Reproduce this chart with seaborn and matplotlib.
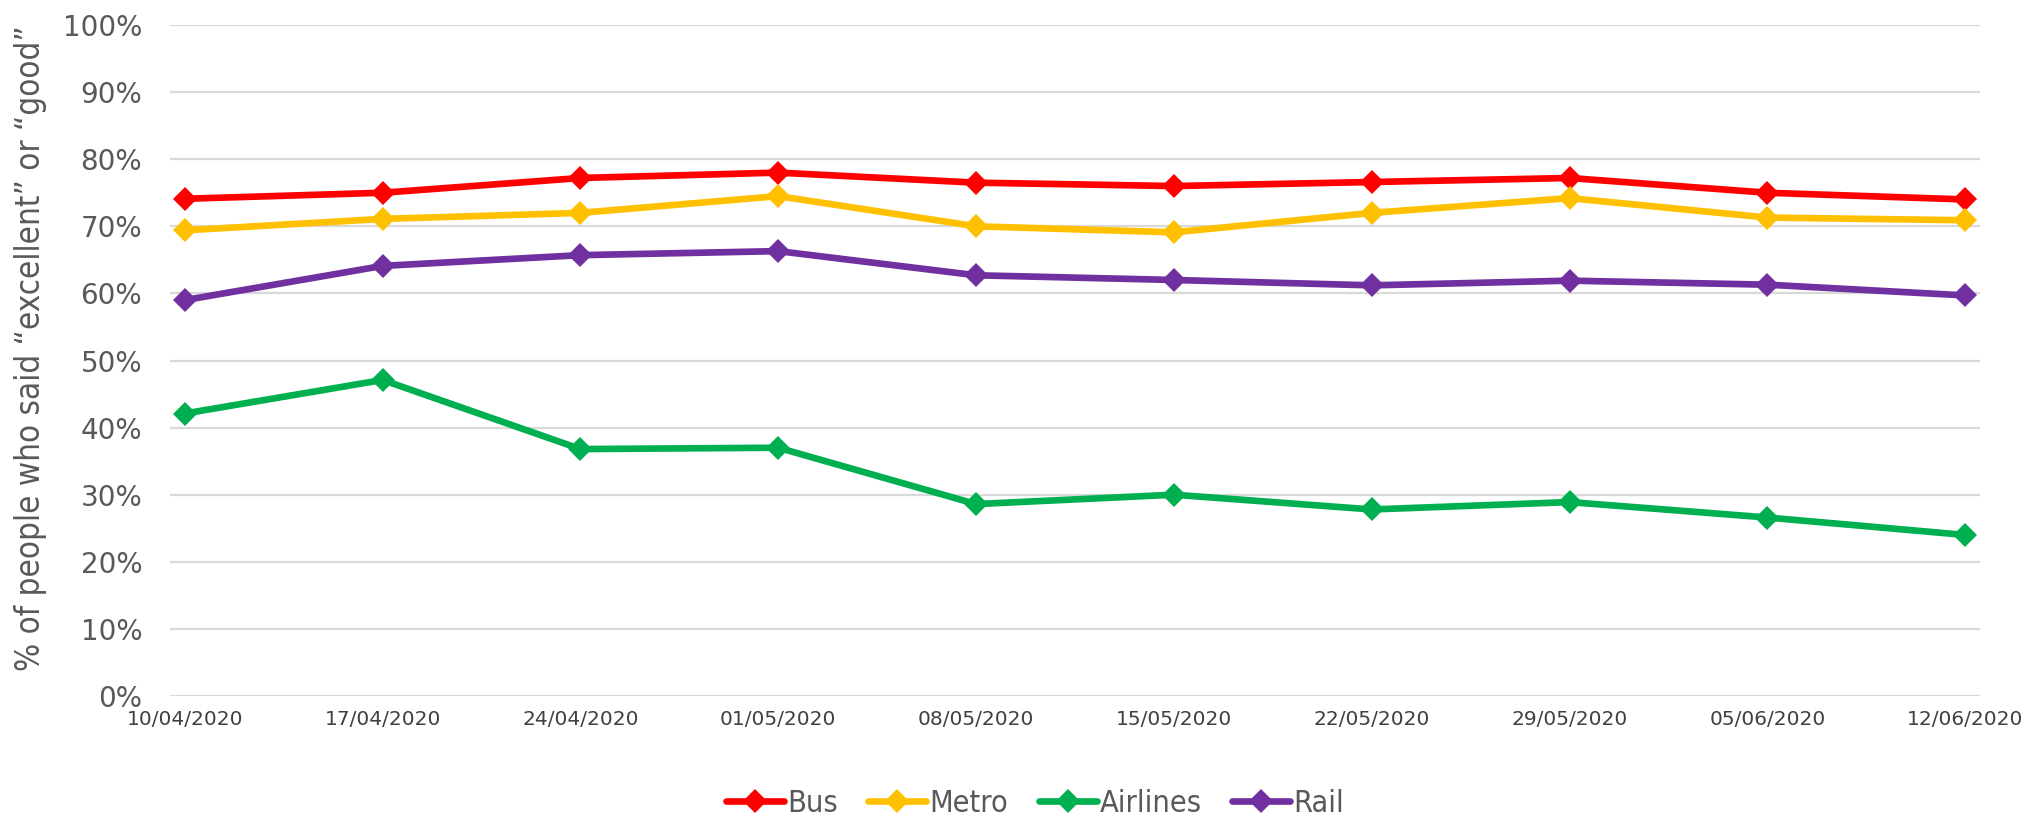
import matplotlib
matplotlib.use("Agg")
import matplotlib.pyplot as plt
import seaborn as sns
import pandas as pd
from matplotlib.ticker import FuncFormatter, MultipleLocator
from matplotlib.font_manager import FontProperties

dates = ["10/04/2020", "17/04/2020", "24/04/2020", "01/05/2020", "08/05/2020",
         "15/05/2020", "22/05/2020", "29/05/2020", "05/06/2020", "12/06/2020"]
bus = [74.1, 75.0, 77.2, 78.0, 76.5, 76.0, 76.6, 77.2, 75.0, 74.0]
metro = [69.4, 71.1, 72.0, 74.5, 70.0, 69.1, 72.0, 74.2, 71.3, 70.9]
airlines = [42.1, 47.1, 36.8, 37.0, 28.6, 30.0, 27.8, 28.9, 26.6, 24.0]
rail = [59.0, 64.1, 65.7, 66.3, 62.7, 62.0, 61.2, 61.9, 61.3, 59.7]
series_names = ["Bus", "Metro", "Airlines", "Rail"]
colors = ["#ff0000", "#ffc000", "#00b050", "#7030a0"]

rows = []
for name, vals in zip(series_names, [bus, metro, airlines, rail]):
    for i, (d, v) in enumerate(zip(dates, vals)):
        rows.append({"idx": i, "date": d, "value": v, "mode": name})
df = pd.DataFrame(rows)

sns.set_theme(style="white")
plt.rcParams['font.family'] = ['DejaVu Sans']

fig = plt.figure(figsize=(20.4, 8.17), dpi=100)
ax = fig.add_axes([170/2040, 1 - 696/817, (1980-170)/2040, (696-25)/817])

sns.lineplot(data=df, x="idx", y="value", hue="mode", palette=colors,
             hue_order=series_names, marker="D", markersize=12.5,
             markeredgewidth=0, linewidth=4.8, ax=ax, legend=True)

ax.set_xlim(-0.075, 9.075)
ax.set_ylim(0, 100)
ax.yaxis.set_major_locator(MultipleLocator(10))
ax.yaxis.set_major_formatter(FuncFormatter(lambda v, p: f"{int(round(v))}%"))
ax.set_xticks(range(len(dates)))
ax.set_xticklabels(dates)
ax.grid(axis="y", color="#d9d9d9", linewidth=1.6)
ax.grid(axis="x", visible=False)
ax.set_axisbelow(True)
for s in ax.spines.values():
    s.set_visible(False)
ax.tick_params(axis="y", labelsize=20, labelcolor="#595959", length=0, pad=20)
ax.tick_params(axis="x", labelsize=14.5, labelcolor="#404040", length=0, pad=10)
ax.set_xlabel("")
ax.set_ylabel("")

cond = dict(family="DejaVu Sans", stretch="condensed")
fig.text(31/2040, 1 - 348/817, "% of people who said \u201cexcellent\u201d or \u201cgood\u201d",
         rotation=90, ha="center", va="center", color="#595959",
         fontproperties=FontProperties(size=23.8, **cond))

handles, labels = ax.get_legend_handles_labels()
ax.legend(handles, labels, loc="center", bbox_to_anchor=(1035/2040, 1 - 803/817),
          bbox_transform=fig.transFigure, ncol=4, frameon=False,
          prop=FontProperties(size=22, **cond),
          labelcolor="#595959", handlelength=1.9, handletextpad=0.1,
          columnspacing=1.0)

fig.savefig("out.png", dpi=100)
